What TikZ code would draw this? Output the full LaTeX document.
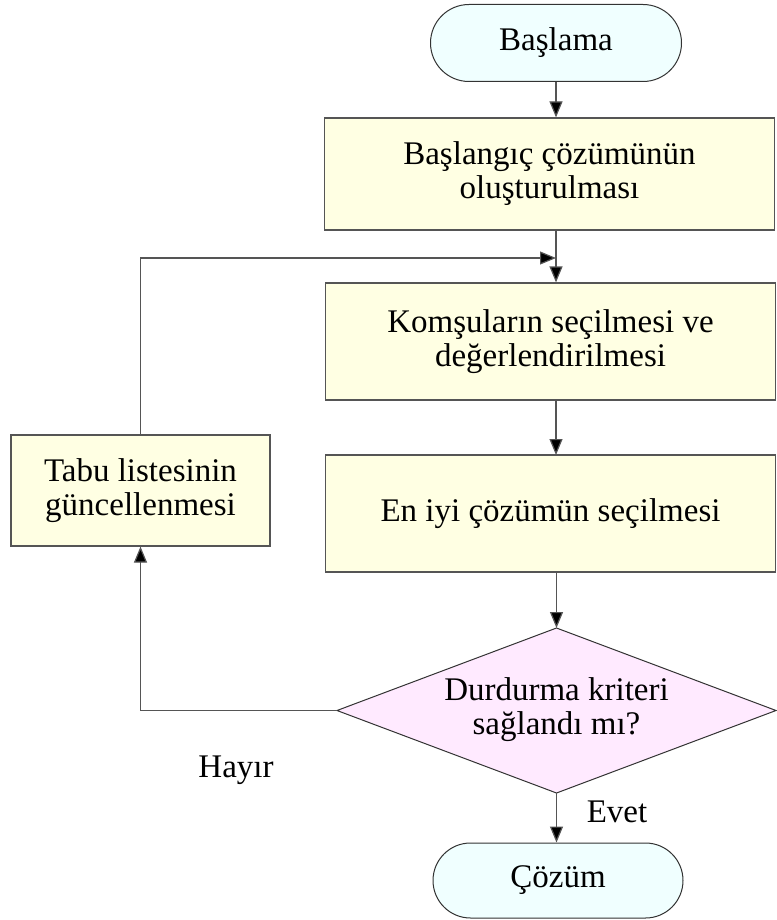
\documentclass[tikz,border=0pt]{standalone}
\usepackage{fontspec}
\setmainfont{Liberation Serif}
\usetikzlibrary{arrows.meta,shapes.misc}
\definecolor{procfill}{HTML}{FFFFE3}
\definecolor{termfill}{HTML}{F0FFFF}
\definecolor{decfill}{HTML}{FFEAFF}
\definecolor{edgegray}{HTML}{555555}
\begin{document}
\begin{tikzpicture}[x=1pt,y=-1pt,
  every node/.style={font=\fontsize{33}{34}\selectfont, align=center, inner sep=0pt},
  procbox/.style={draw=edgegray, line width=1.2pt, fill=procfill, rectangle},
  termbox/.style={draw=black!80, line width=1pt, fill=termfill, rounded rectangle},
  flow/.style={draw=edgegray, line width=1.2pt, -{Triangle[width=13pt,length=16pt,fill=black]}},
  plain/.style={draw=edgegray, line width=1.2pt}]
\useasboundingbox (0,0) rectangle (776,920);
\fill[white] (0,0) rectangle (776,920);

% process steps down the right column
\node[termbox, minimum width=251pt, minimum height=77pt] (start) at (556,43) {Başlama};
\node[procbox, minimum width=450pt, minimum height=112pt] (init) at (549.5,174) {Başlangıç çözümünün\\oluşturulması};
\node[procbox, minimum width=450pt, minimum height=117pt] (neigh) at (550.5,341.5) {Komşuların seçilmesi ve\\değerlendirilmesi};
\node[procbox, minimum width=450pt, minimum height=117pt] (best) at (550.5,513.5) {En iyi çözümün seçilmesi};

% decision diamond
\filldraw[draw=black!80, line width=1pt, fill=decfill]
  (556.5,628) coordinate (dtop) -- (776,710.5) coordinate (dright) -- (556.5,793) coordinate (dbot) -- (337,710.5) coordinate (dleft) -- cycle;
\node (dtext) at (556.5,710) {Durdurma kriteri\\sağlandı mı?};
\node[termbox, minimum width=250pt, minimum height=75pt] (sol) at (558,880.5) {Çözüm};

% tabu list update on the left
\node[procbox, minimum width=259pt, minimum height=111pt] (tabu) at (140.5,490.5) {Tabu listesinin\\güncellenmesi};

% connectors
\coordinate (join) at (556,258);
\draw[flow] (start.south) -- (start.south |- init.north);
\draw[plain] (init.south -| join) -- (join);
\draw[flow] (join) -- (join |- neigh.north);
\draw[flow] (neigh.south -| 556,0) -- (556,455);
\draw[flow] (best.south -| 556.5,0) -- (dtop);
\draw[flow] (dbot) -- (dbot |- sol.north);
\draw[flow] (dleft) -| (tabu.south);
\draw[flow] (tabu.north) |- (join);

% branch labels
\node (yes) at (617,812) {Evet};
\node (no) at (236,770) {Hayır};
\end{tikzpicture}
\end{document}
